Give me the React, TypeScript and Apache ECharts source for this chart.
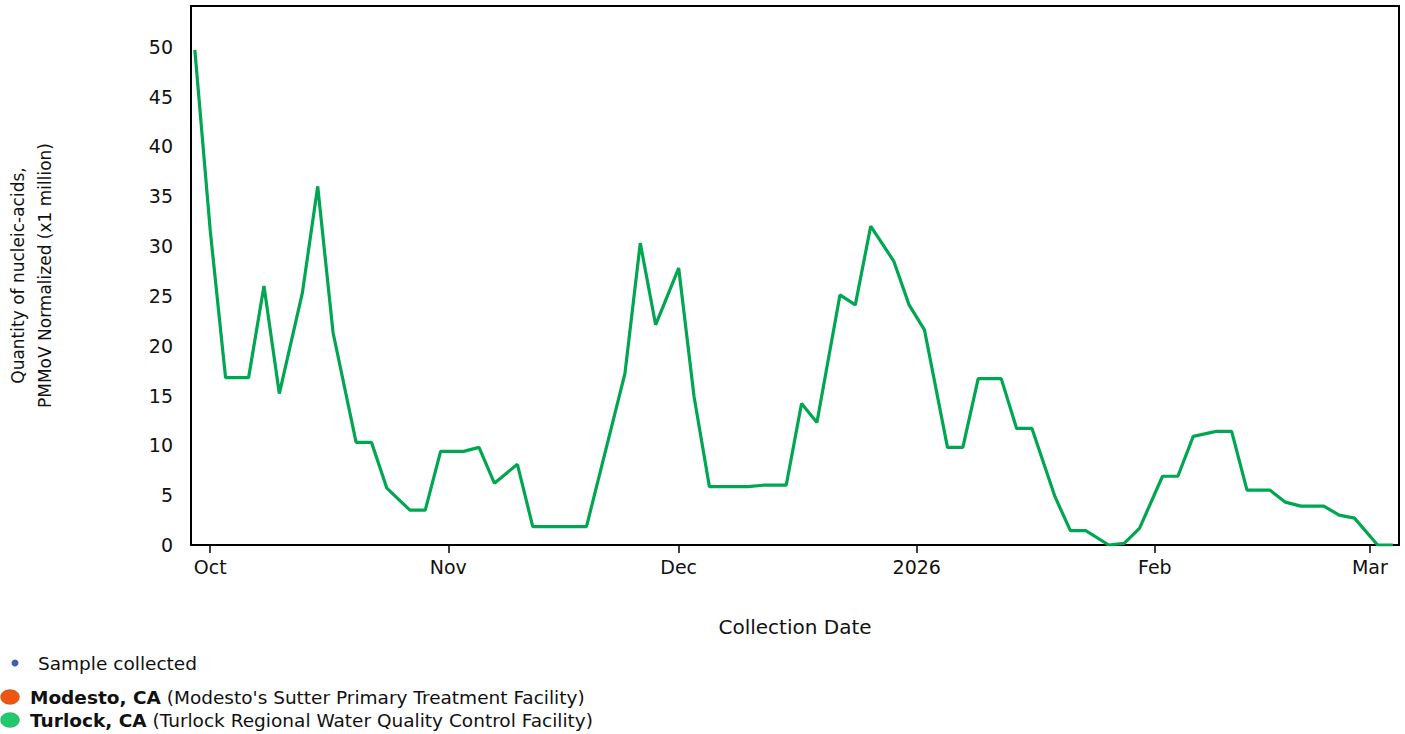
import React, { useEffect, useRef } from "react";
import * as echarts from "echarts";

// Turlock, CA sample collection dates and PMMoV-normalized quantities (x1 million)
const sampleDates: string[] = [
  "2025-09-29", "2025-10-01", "2025-10-03", "2025-10-06", "2025-10-08", "2025-10-10",
  "2025-10-13", "2025-10-15", "2025-10-17", "2025-10-20", "2025-10-22", "2025-10-24",
  "2025-10-27", "2025-10-29", "2025-10-31", "2025-11-03", "2025-11-05", "2025-11-07",
  "2025-11-10", "2025-11-12", "2025-11-14", "2025-11-17", "2025-11-19", "2025-11-21",
  "2025-11-24", "2025-11-26", "2025-11-28", "2025-12-01", "2025-12-03", "2025-12-05",
  "2025-12-08", "2025-12-10", "2025-12-12", "2025-12-15", "2025-12-17", "2025-12-19",
  "2025-12-22", "2025-12-24", "2025-12-26", "2025-12-29", "2025-12-31", "2026-01-02",
  "2026-01-05", "2026-01-07", "2026-01-09", "2026-01-12", "2026-01-14", "2026-01-16",
  "2026-01-19", "2026-01-21", "2026-01-23", "2026-01-26", "2026-01-28", "2026-01-30",
  "2026-02-02", "2026-02-04", "2026-02-06", "2026-02-09", "2026-02-11", "2026-02-13",
  "2026-02-16", "2026-02-18", "2026-02-20", "2026-02-23", "2026-02-25", "2026-02-27",
  "2026-03-02", "2026-03-04",
];

const turlockValues: number[] = [
  49.7, 31.6, 16.8, 16.8, 26.0, 15.2,
  25.3, 36.0, 21.3, 10.3, 10.3, 5.7,
  3.5, 3.5, 9.4, 9.4, 9.8, 6.2,
  8.1, 1.85, 1.85, 1.85, 1.85, 8.0,
  17.2, 30.3, 22.1, 27.8, 14.9, 5.85,
  5.85, 5.85, 6.0, 6.0, 14.2, 12.3,
  25.1, 24.1, 32.0, 28.5, 24.1, 21.6,
  9.8, 9.8, 16.7, 16.7, 11.7, 11.7,
  4.85, 1.44, 1.44, 0, 0.17, 1.67,
  6.9, 6.9, 10.9, 11.4, 11.4, 5.5,
  5.5, 4.3, 3.9, 3.9, 3.0, 2.7,
  0, 0,
];

const monthLabels: string[] = ["Jan", "Feb", "Mar", "Apr", "May", "Jun", "Jul", "Aug", "Sep", "Oct", "Nov", "Dec"];

const yTickValues: number[] = [0, 5, 10, 15, 20, 25, 30, 35, 40, 45, 50];

const legendEntries: { bold: string; rest: string; color: string }[] = [
  { bold: "Modesto, CA", rest: " (Modesto's Sutter Primary Treatment Facility)", color: "#ee5511" },
  { bold: "Turlock, CA", rest: " (Turlock Regional Water Quality Control Facility)", color: "#1fc96c" },
];

const FONT = "DejaVu Sans";

function toTime(s: string): number {
  const [y, m, d] = s.split("-").map(Number);
  return new Date(y, m - 1, d).getTime();
}

export default function App() {
  const ref = useRef<HTMLDivElement>(null);

  useEffect(() => {
    if (!ref.current) return;
    const chart = echarts.init(ref.current, undefined, { renderer: "svg" });
    const data = sampleDates.map((d, i) => [toTime(d), turlockValues[i]]);
    const xMin = new Date(2025, 8, 28, 12).getTime();
    const xMax = new Date(2026, 2, 4, 19).getTime();
    const DAY = 24 * 3600 * 1000;
    const LEG = 18.5;

    const legendGraphics: any[] = [
      {
        type: "circle",
        shape: { cx: 15, cy: 663, r: 3.5 },
        style: { fill: "#3f5fb5" },
      },
      {
        type: "text",
        x: 38,
        y: 663,
        style: {
          text: "Sample collected",
          fontFamily: FONT,
          fontSize: LEG,
          fill: "#111",
          verticalAlign: "middle",
        },
      },
    ];
    legendEntries.forEach((e, i) => {
      const cy = 697 + i * 23;
      legendGraphics.push({
        type: "ellipse",
        shape: { cx: 10, cy, rx: 9.5, ry: 7.5 },
        style: { fill: e.color, stroke: "rgba(0,0,0,0.15)", lineWidth: 1 },
      });
      legendGraphics.push({
        type: "text",
        x: 30,
        y: cy,
        style: {
          text: `{b|${e.bold}}{n|${e.rest}}`,
          verticalAlign: "middle",
          fill: "#111",
          fontFamily: FONT,
          fontSize: LEG,
          rich: {
            b: { fontFamily: FONT, fontSize: LEG, fontWeight: "bold", fill: "#111" },
            n: { fontFamily: FONT, fontSize: LEG, fill: "#111" },
          },
        },
      });
    });

    chart.setOption({
      animation: false,
      grid: {
        left: 191,
        top: 6,
        right: 6,
        bottom: 189,
        containLabel: false,
        outerBoundsMode: "none",
        show: true,
        borderColor: "#000",
        borderWidth: 2,
        backgroundColor: "#fff",
      },
      xAxis: {
        type: "time",
        min: xMin,
        max: xMax,
        minInterval: 28 * DAY,
        maxInterval: 31 * DAY,
        splitNumber: 6,
        name: "Collection Date",
        nameLocation: "middle",
        nameGap: 72,
        nameTextStyle: { fontFamily: FONT, fontSize: 20, color: "#111" },
        axisLine: { show: false },
        axisTick: { show: true, length: 8, lineStyle: { color: "#000", width: 1.5 } },
        splitLine: { show: false },
        minorTick: { show: false },
        axisLabel: {
          fontFamily: FONT,
          fontSize: 19,
          color: "#111",
          margin: 12,
          showMinLabel: false,
          showMaxLabel: false,
          formatter: (val: number) => {
            const d = new Date(val);
            return d.getMonth() === 0 ? String(d.getFullYear()) : monthLabels[d.getMonth()];
          },
        },
      },
      yAxis: {
        type: "value",
        min: 0,
        max: 54.1,
        interval: 5,
        name: "Quantity of nucleic-acids,\nPMMoV Normalized (x1 million)",
        nameLocation: "middle",
        nameRotate: 90,
        nameGap: 133,
        nameTextStyle: { fontFamily: FONT, fontSize: 17, color: "#111", lineHeight: 27 },
        axisLine: { show: false },
        axisTick: { show: false },
        splitLine: { show: false },
        axisLabel: {
          fontFamily: FONT,
          fontSize: 19,
          color: "#111",
          margin: 18,
          showMaxLabel: false,
          formatter: (v: number) => (yTickValues.includes(v) ? String(v) : ""),
        },
      },
      series: [
        {
          name: "Turlock, CA",
          type: "line",
          data,
          showSymbol: false,
          symbol: "none",
          lineStyle: { color: "#00a651", width: 3.2 },
          itemStyle: { color: "#00a651" },
          clip: true,
        },
      ],
      graphic: legendGraphics,
    });

    return () => chart.dispose();
  }, []);

  return (
    <div
      ref={ref}
      style={{ position: "absolute", left: 0, top: 0, width: 1405, height: 734, background: "#fff" }}
    />
  );
}
